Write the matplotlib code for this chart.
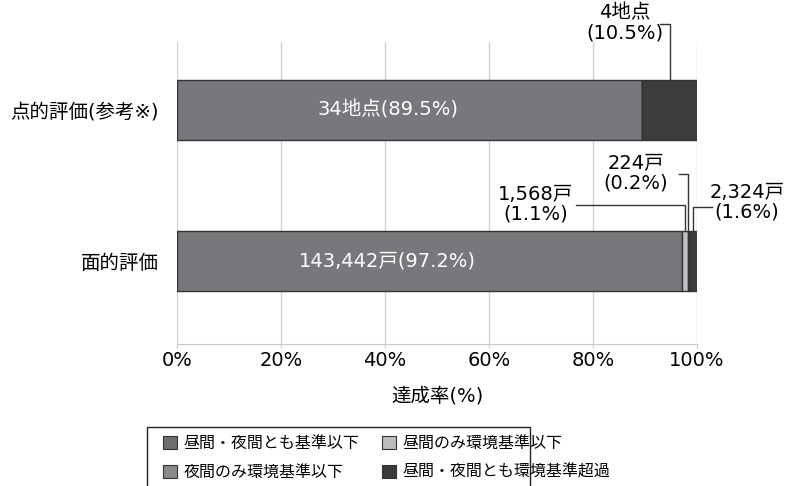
import matplotlib
matplotlib.use("Agg")
import matplotlib.pyplot as plt
from matplotlib.patches import Patch, Rectangle
import numpy as np

plt.rcParams['font.family'] = ['DejaVu Sans', 'Noto Sans CJK JP']

categories = ['面的評価', '点的評価(参考※)']
series = ['昼間・夜間とも基準以下', '昼間のみ環境基準以下', '夜間のみ環境基準以下', '昼間・夜間とも環境基準超過']
colors = ['#77787b', '#bfbfbf', '#8d8d8d', '#3c3c3c']
legend_colors = ['#6e6e6e', '#bdbdbd', '#8a8a8a', '#3a3a3a']

# counts: 面的評価 (戸), 点的評価 (地点)
area_counts = [143442, 1568, 224, 2324]
point_counts = [34, 0, 0, 4]

counts = np.array([area_counts, point_counts], dtype=float)
shares = counts / counts.sum(axis=1, keepdims=True) * 100

fs = 14

fig = plt.figure(figsize=(7.85, 4.86), dpi=100)
ax = fig.add_axes([177 / 785, 1 - 344 / 486, 520 / 785, 302 / 486])

ypos = np.array([0, 1])
bar_h = 0.396
left = np.zeros(2)
for i, name in enumerate(series):
    ax.barh(ypos, shares[:, i], left=left, height=bar_h, color=colors[i],
            edgecolor='#333333', linewidth=1.0, zorder=3)
    left += shares[:, i]

ax.set_xlim(0, 100)
ax.set_ylim(-0.545, 1.449)
ax.set_xticks(np.arange(0, 101, 20))
ax.set_xticklabels([f'{v}%' for v in range(0, 101, 20)], fontsize=fs)
ax.set_yticks(ypos)
ax.set_yticklabels(categories, fontsize=fs)
ax.tick_params(axis='y', length=0, pad=13)
ax.tick_params(axis='x', length=3, color='#c8c8c8', pad=2)
ax.grid(axis='x', color='#d0d0d0', linewidth=1.0, zorder=0)
for s in ['top', 'right', 'left']:
    ax.spines[s].set_visible(False)
ax.spines['bottom'].set_color('#c8c8c8')
ax.set_xlabel('達成率(%)', fontsize=fs, labelpad=12)

# labels inside bars
ax.text(40.5, 1, f'{int(point_counts[0])}地点({shares[1, 0]:.1f}%)', color='white',
        ha='center', va='center', fontsize=fs, zorder=4)
ax.text(40.5, 0, f'{area_counts[0]:,}戸({shares[0, 0]:.1f}%)', color='white',
        ha='center', va='center', fontsize=fs, zorder=4)

# leader-line callouts for the small segments
cum = np.cumsum(shares, axis=1)
starts = cum - shares
mid = starts + shares / 2
top_pt = 1 + bar_h / 2
top_area = 0 + bar_h / 2
lc = '#333333'


def callout(text, tx, ty, line_x0, line_y, seg_x, bar_top):
    ax.text(tx, ty, text, ha='center', va='center', fontsize=fs, linespacing=1.05)
    ax.plot([line_x0, seg_x, seg_x], [line_y, line_y, bar_top], color=lc,
            linewidth=1.0, clip_on=False, zorder=5)


callout(f'{int(point_counts[3])}地点\n({shares[1, 3]:.1f}%)', 86.2, 1.574,
        92.9, 1.568, mid[1, 3], top_pt)
callout(f'{area_counts[2]:,}戸\n({shares[0, 2]:.1f}%)', 88.3, 0.584,
        96.5, 0.578, mid[0, 2], top_area)
callout(f'{area_counts[1]:,}戸\n({shares[0, 1]:.1f}%)', 69.0, 0.376,
        76.7, 0.373, mid[0, 1], top_area)
callout(f'{area_counts[3]:,}戸\n({shares[0, 3]:.1f}%)', 109.6, 0.393,
        102.9, 0.36, mid[0, 3], top_area)

# legend: two columns, frame open at the bottom edge of the figure
order = [0, 2, 1, 3]
handles = [Patch(facecolor=legend_colors[i], edgecolor='#333333', linewidth=0.8) for i in order]
labels = [series[i] for i in order]
fig.legend(handles, labels, loc='upper left', bbox_to_anchor=(152 / 785, 1 - 425 / 486),
           ncol=2, frameon=False, fontsize=11.5, handlelength=0.85, handleheight=0.85,
           handletextpad=0.45, columnspacing=1.4, labelspacing=0.85, borderpad=0.2)
fig.patches.append(Rectangle((147 / 785, -0.05), 383 / 785, 0.05 + (486 - 427) / 486,
                             transform=fig.transFigure, fill=False, edgecolor='#222222',
                             linewidth=1.0))

fig.savefig('out.png', dpi=100)
